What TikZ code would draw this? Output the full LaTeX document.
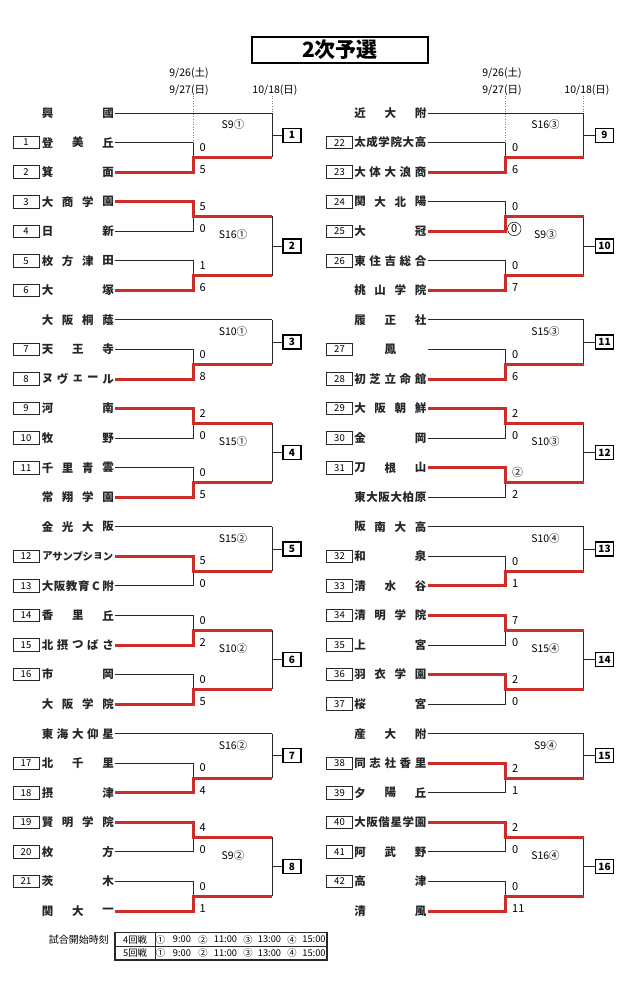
\documentclass[tikz,border=0pt]{standalone}
\usepackage{fontspec}
\setmainfont{Noto Sans CJK JP}
\definecolor{wred}{RGB}{205,45,40}
\definecolor{lk}{RGB}{40,40,40}
\tikzset{
 bl/.style={draw=lk,line width=0.9pt},
 rd/.style={draw=wred,line width=3pt,line join=miter},
 tchar/.style={inner sep=0pt,font=\bfseries\fontsize{11.5}{11.5}\selectfont,text=black!85},
 nbox/.style={draw=lk,line width=0.8pt,minimum width=26pt,minimum height=12.5pt,inner sep=0pt,font=\fontsize{9.5}{9.5}\selectfont},
 fbox/.style={draw=black,line width=1.2pt,minimum width=18pt,minimum height=14pt,inner sep=0pt,font=\bfseries\fontsize{10}{10}\selectfont},
 score/.style={anchor=west,inner sep=0pt,font=\fontsize{11}{11}\selectfont},
 slabel/.style={inner sep=0pt,font=\fontsize{10.5}{10.5}\selectfont},
 datel/.style={inner sep=0pt,font=\fontsize{10.5}{10.5}\selectfont},
 dots/.style={draw=gray,line width=0.6pt,dotted},
 legt/.style={inner sep=0pt,font=\fontsize{9.3}{9.3}\selectfont},
}
\newcommand\sideL{\def\qsd{L}\def\qxs{115}\def\qxa{193}\def\qxb{272}\def\qxbx{292}\def\qxn{26}\def\qxc{47.5}\def\qxl{233}}
\newcommand\sideR{\def\qsd{R}\def\qxs{428}\def\qxa{505.5}\def\qxb{583.5}\def\qxbx{604.5}\def\qxn{339.5}\def\qxc{360}\def\qxl{545.5}}
\newcommand\cz[1]{\hspace*{-5pt}\tikz[baseline=(z.base)]\node[draw=lk,circle,line width=0.6pt,inner sep=0.2pt,minimum size=13.5pt](z){#1};}
\newcommand\team[4]{%
 \pgfmathsetmacro\qty{113+(#1)*29.556}%
 \coordinate (\qsd#1) at (\qxs,\qty);
 \if\relax\detokenize{#2}\relax\else\node[nbox] (\qsd#1n) at (\qxn,\qty) {#2};\fi
 \foreach \ch [count=\qi from 0] in {#4}{%
   \ifnum#3=1 \pgfmathsetmacro\qxx{\qxc+30.25}\else\pgfmathsetmacro\qxx{\qxc+\qi*60.5/(#3-1)}\fi
   \ifnum#3>6 \node[tchar,font=\bfseries\fontsize{10.3}{10.3}\selectfont] at (\qxx,\qty) {\ch};
   \else \node[tchar] at (\qxx,\qty) {\ch};\fi
 }%
}
\newcommand\mblack[1]{%
 \pgfmathtruncatemacro\qRa{#1}%
 \pgfmathtruncatemacro\qRb{#1+1}%
 \pgfmathsetmacro\qya{113+(#1)*29.556}%
 \pgfmathsetmacro\qyb{113+(#1+1)*29.556}%
 \pgfmathsetmacro\qym{113+(#1+0.5)*29.556}%
 \coordinate (\qsd\qRa k) at (\qxa,\qya);
 \coordinate (\qsd\qRb k) at (\qxa,\qyb);
 \coordinate (\qsd\qRa m) at (\qxa,\qym);
 \coordinate (\qsd\qRa e) at (\qxb,\qym);
 \draw[bl] (\qsd\qRa) -- (\qsd\qRa k) -- (\qsd\qRb k) -- (\qsd\qRb);
 \draw[bl] (\qsd\qRa m) -- (\qsd\qRa e);
}
\newcommand\mred[4]{%
 \pgfmathtruncatemacro\qRa{#1}%
 \pgfmathtruncatemacro\qRb{#1+1}%
 \ifnum#2=1 \draw[rd] (\qsd\qRa) -- (\qsd\qRa k) -- (\qsd\qRa m) -- (\qsd\qRa e);
 \else \draw[rd] (\qsd\qRb) -- (\qsd\qRb k) -- (\qsd\qRa m) -- (\qsd\qRa e);\fi
 \node[score] (\qsd\qRa sa) at ([xshift=6.5pt,yshift=10pt]\qsd\qRa m) {#3};
 \node[score] (\qsd\qRa sb) at ([xshift=6.5pt,yshift=-12.5pt]\qsd\qRa m) {#4};
}
\newcommand\unitthree[6]{%
 \pgfmathtruncatemacro\qRr{#1+1}%
 \pgfmathsetmacro\qyo{113+(#1)*29.556}%
 \pgfmathsetmacro\qyj{113+(#1+0.75)*29.556}%
 \coordinate (\qsd#1e) at (\qxb,\qyo);
 \draw[bl] (\qsd#1) -- (\qsd#1e);
 \mblack{\qRr}
 \draw[bl] (\qsd#1e) -- (\qsd\qRr e);
 \coordinate (J#5) at (\qxb,\qyj);
 \node[fbox] (B#5) at (\qxbx,\qyj) {#5};
 \draw[bl] (J#5) -- (B#5);
 \mred{\qRr}{#2}{#3}{#4}
 \node[slabel] (S#5) at (\qxl,\qyo+12) {#6};
}
\newcommand\unitfour[9]{%
 \pgfmathtruncatemacro\qRr{#1+2}%
 \pgfmathsetmacro\qyj{113+(#1+1.5)*29.556}%
 \mblack{#1}
 \mblack{\qRr}
 \draw[bl] (\qsd#1e) -- (\qsd\qRr e);
 \coordinate (J#8) at (\qxb,\qyj);
 \node[fbox] (B#8) at (\qxbx,\qyj) {#8};
 \draw[bl] (J#8) -- (B#8);
 \mred{#1}{#2}{#3}{#4}
 \mred{\qRr}{#5}{#6}{#7}
 \node[slabel] (S#8) at (\qxl,\qyj-11) {#9};
}
\begin{document}
\begin{tikzpicture}[x=1pt,y=-1pt]
\fill[white] (0,0) rectangle (639,987);
\useasboundingbox (0,0) rectangle (639,987);
% title
\node[draw=black,line width=1.8pt,minimum width=176pt,minimum height=26pt,inner sep=0pt,font=\bfseries\fontsize{21}{21}\selectfont] (title) at (340,50) {2次予選};
% ---------------- left ----------------
\sideL
\node[datel] (d1L) at (189,73) {9/26(土)};
\node[datel] (d2L) at (189,90) {9/27(日)};
\node[datel] (d3L) at (275,90) {10/18(日)};
\team{0}{}{2}{興,國}
\team{1}{1}{3}{登,美,丘}
\team{2}{2}{2}{箕,面}
\team{3}{3}{4}{大,商,学,園}
\team{4}{4}{2}{日,新}
\team{5}{5}{4}{枚,方,津,田}
\team{6}{6}{2}{大,塚}
\team{7}{}{4}{大,阪,桐,蔭}
\team{8}{7}{3}{天,王,寺}
\team{9}{8}{5}{ヌ,ヴ,ェ,ー,ル}
\team{10}{9}{2}{河,南}
\team{11}{10}{2}{牧,野}
\team{12}{11}{4}{千,里,青,雲}
\team{13}{}{4}{常,翔,学,園}
\team{14}{}{4}{金,光,大,阪}
\team{15}{12}{7}{ア,サ,ン,プ,シ,ョ,ン}
\team{16}{13}{6}{大,阪,教,育,C,附}
\team{17}{14}{3}{香,里,丘}
\team{18}{15}{5}{北,摂,つ,ば,さ}
\team{19}{16}{2}{市,岡}
\team{20}{}{4}{大,阪,学,院}
\team{21}{}{5}{東,海,大,仰,星}
\team{22}{17}{3}{北,千,里}
\team{23}{18}{2}{摂,津}
\team{24}{19}{4}{賢,明,学,院}
\team{25}{20}{2}{枚,方}
\team{26}{21}{2}{茨,木}
\team{27}{}{3}{関,大,一}
\unitthree{0}{2}{0}{5}{1}{S9①}
\unitfour{3}{1}{5}{0}{2}{1}{6}{2}{S16①}
\unitthree{7}{2}{0}{8}{3}{S10①}
\unitfour{10}{1}{2}{0}{2}{0}{5}{4}{S15①}
\unitthree{14}{1}{5}{0}{5}{S15②}
\unitfour{17}{2}{0}{2}{2}{0}{5}{6}{S10②}
\unitthree{21}{2}{0}{4}{7}{S16②}
\unitfour{24}{1}{4}{0}{2}{0}{1}{8}{S9②}
\draw[dots] (d2L.south -| L1k) -- (L1k);
\draw[dots] (d3L.south -| L0e) -- (L0e);
% ---------------- right ----------------
\sideR
\node[datel] (d1R) at (502,73) {9/26(土)};
\node[datel] (d2R) at (502,90) {9/27(日)};
\node[datel] (d3R) at (587,90) {10/18(日)};
\team{0}{}{3}{近,大,附}
\team{1}{22}{6}{太,成,学,院,大,高}
\team{2}{23}{5}{大,体,大,浪,商}
\team{3}{24}{4}{関,大,北,陽}
\team{4}{25}{2}{大,冠}
\team{5}{26}{5}{東,住,吉,総,合}
\team{6}{}{4}{桃,山,学,院}
\team{7}{}{3}{履,正,社}
\team{8}{27}{1}{鳳}
\team{9}{28}{5}{初,芝,立,命,館}
\team{10}{29}{4}{大,阪,朝,鮮}
\team{11}{30}{2}{金,岡}
\team{12}{31}{3}{刀,根,山}
\team{13}{}{6}{東,大,阪,大,柏,原}
\team{14}{}{4}{阪,南,大,高}
\team{15}{32}{2}{和,泉}
\team{16}{33}{3}{清,水,谷}
\team{17}{34}{4}{清,明,学,院}
\team{18}{35}{2}{上,宮}
\team{19}{36}{4}{羽,衣,学,園}
\team{20}{37}{2}{桜,宮}
\team{21}{}{3}{産,大,附}
\team{22}{38}{5}{同,志,社,香,里}
\team{23}{39}{3}{夕,陽,丘}
\team{24}{40}{6}{大,阪,偕,星,学,園}
\team{25}{41}{3}{阿,武,野}
\team{26}{42}{2}{高,津}
\team{27}{}{2}{清,風}
\unitthree{0}{2}{0}{6}{9}{S16③}
\unitfour{3}{2}{0}{\cz{0}}{2}{0}{7}{10}{S9③}
\unitthree{7}{2}{0}{6}{11}{S15③}
\unitfour{10}{1}{2}{0}{1}{②}{2}{12}{S10③}
\unitthree{14}{2}{0}{1}{13}{S10④}
\unitfour{17}{1}{7}{0}{1}{2}{0}{14}{S15④}
\unitthree{21}{1}{2}{1}{15}{S9④}
\unitfour{24}{1}{2}{0}{2}{0}{11}{16}{S16④}
\draw[dots] (d2R.south -| R1k) -- (R1k);
\draw[dots] (d3R.south -| R0e) -- (R0e);
% ---------------- legend ----------------
\node[anchor=east,inner sep=0pt,font=\fontsize{10}{10}\selectfont] (leg) at (109,939.5) {試合開始時刻};
\coordinate (T1) at (115,932.5);
\coordinate (T2) at (327,960);
\draw[lk,line width=1.1pt] (T1) rectangle (T2);
\draw[lk,line width=0.8pt] (115,946.5) -- (327,946.5);
\draw[lk,line width=0.8pt] (155,932.5) -- (155,960);
\foreach \rn/\yy in {4/939.5,5/953.3}{
 \node[legt] at (135,\yy) {\rn 回戦};
 \node[legt] at (160.5,\yy) {①};
 \node[legt] at (182,\yy) {9:00};
 \node[legt] at (203,\yy) {②};
 \node[legt] at (225.5,\yy) {11:00};
 \node[legt] at (248,\yy) {③};
 \node[legt] at (269.5,\yy) {13:00};
 \node[legt] at (292,\yy) {④};
 \node[legt] at (314,\yy) {15:00};
}
\end{tikzpicture}
\end{document}
